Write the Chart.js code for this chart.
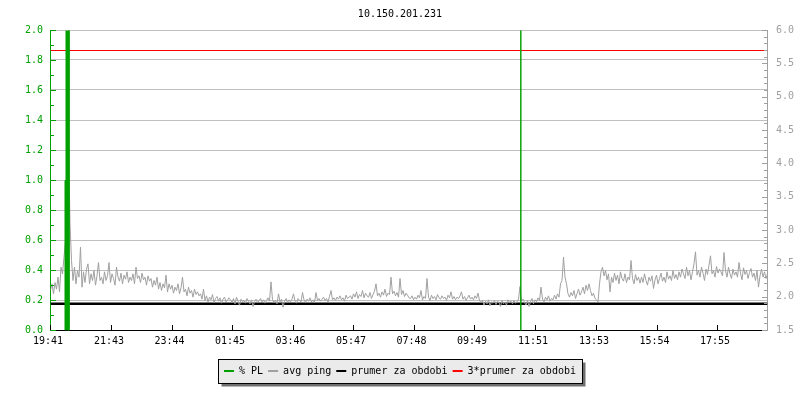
<!DOCTYPE html>
<html>
<head>
<meta charset="utf-8">
<title>10.150.201.231</title>
<script src="https://cdn.jsdelivr.net/npm/chart.js@4.4.0/dist/chart.umd.min.js"></script>
<style>
  html, body { margin: 0; padding: 0; background: #fff; }
</style>
</head>
<body>
<canvas id="chart" width="800" height="400"></canvas>
<script>
'use strict';

let titleText = '10.150.201.231';
let tickMinutes = [0, 122, 243, 364, 485, 606, 727, 848, 970, 1092, 1213, 1334];
let tickLabels = ['19:41', '21:43', '23:44', '01:45', '03:46', '05:47', '07:48', '09:49', '11:51', '13:53', '15:54', '17:55'];
let lastMinute = 1434;
let sampleStep = 3; // minutes between ping samples

// avg ping (right axis), one value every 3 minutes from 19:41
let pingValues = [
  2.1, 2.2, 2.05, 2.22, 2.12, 2.3, 2.08, 2.45, 2.35, 2.6,
  2.85, 3.6, 4.35, 3.1,
  2.55, 2.25, 2.45, 2.2, 2.4, 2.3, 2.75, 2.15, 2.38, 2.22,
  2.42, 2.5, 2.2, 2.35, 2.25, 2.4, 2.18, 2.32, 2.52, 2.25,
  2.3, 2.2, 2.38, 2.25, 2.32, 2.52, 2.22, 2.35, 2.28, 2.18,
  2.45, 2.3, 2.24, 2.36, 2.2, 2.33, 2.27, 2.38, 2.22, 2.3,
  2.25, 2.35, 2.2, 2.45, 2.28, 2.32, 2.22, 2.36, 2.26, 2.3,
  2.18, 2.32, 2.24,
  2.28, 2.15, 2.25, 2.18, 2.3, 2.12, 2.22, 2.1, 2.2, 2.14,
  2.33, 2.08, 2.2, 2.12, 2.18, 2.06, 2.15, 2.1, 2.2, 2.05,
  2.14, 2.3, 2.08, 2.12, 2.02, 2.15, 2.06, 2.1, 2.0, 2.12,
  2.04, 2.08, 2.02,
  2.05, 1.97, 2.12, 1.95, 2.02, 1.93, 2.0, 1.96, 2.04, 1.92,
  1.98, 2.01, 1.94, 1.99, 1.91, 1.97, 2.0, 1.93, 1.96, 1.99,
  1.96, 1.92, 1.98, 1.9, 2.0, 1.94, 1.88, 1.97, 1.93, 1.95,
  1.91, 1.98, 1.94, 1.9, 1.96, 1.86, 1.93, 1.97, 1.92, 1.95,
  1.98, 1.93, 1.96, 1.91, 1.95, 1.99, 1.94, 2.23, 1.96, 1.92,
  1.95, 1.9, 2.05, 1.93, 1.97, 1.85, 1.94, 1.98, 1.92, 1.96,
  1.93, 1.97, 2.05, 1.94, 1.91, 1.98, 1.95, 1.93, 2.07, 1.96,
  1.92, 1.97, 1.94, 1.99, 1.93, 1.96, 1.92, 2.07, 1.95, 1.98,
  1.94, 1.97, 2.0, 1.95, 1.98, 1.93, 2.01, 2.1, 1.96, 1.99,
  1.95, 2.0, 1.97, 2.02, 1.96, 1.99, 1.94, 2.03, 1.98, 2.0,
  2.02, 1.97, 2.05, 2.0, 2.08, 1.98, 2.04, 2.01, 2.1, 1.99,
  2.06, 2.02, 2.0, 2.07, 1.98, 2.04, 2.09, 2.2, 2.02, 2.06,
  2.0, 2.08, 2.03, 2.12, 2.01, 2.06, 2.04, 2.3, 2.05, 2.09,
  2.02, 2.07, 2.0, 2.28, 2.04, 2.1, 2.01, 2.06, 2.03, 1.99,
  1.98, 2.02, 1.96, 2.0, 1.97, 2.03, 1.99, 2.1, 1.96, 2.01,
  1.98, 2.28, 2.0, 1.95, 2.03, 1.98, 2.01, 1.96, 2.04, 1.99,
  1.97, 2.02, 1.98, 2.0, 1.95, 2.03, 1.99, 2.08, 1.97, 2.01,
  1.96, 2.0, 1.98, 2.02, 2.08, 1.97, 2.01, 1.95, 1.99, 2.03,
  1.97, 2.0, 1.96, 2.02, 1.98, 2.06, 1.95,
  1.92, 1.95, 1.88, 1.94, 1.9, 1.96, 1.87, 1.93, 1.91, 1.95,
  1.89, 1.94, 1.92, 1.86, 1.95, 1.9, 1.93, 1.88, 1.96, 1.92,
  1.94, 1.9, 1.95, 1.91, 1.93, 1.97,
  2.16, 1.94,
  1.97, 1.92, 1.88, 1.95, 1.86, 1.93, 1.98, 1.9, 1.96, 1.93,
  1.99, 1.95, 2.15, 1.97, 1.93, 2.0, 1.96, 2.02, 1.94, 1.98,
  1.96, 2.03, 1.97, 2.05, 2.0,
  2.2, 2.25, 2.6, 2.3, 2.2, 2.05,
  2.0, 2.07, 2.02, 2.1, 1.98, 2.05, 2.12, 2.03, 2.08, 2.15,
  2.05, 2.18, 2.1, 2.2,
  2.1, 2.02, 2.06, 1.98, 1.96, 1.93,
  2.2, 2.38, 2.45, 2.32, 2.4, 2.26, 2.35, 2.08, 2.3, 2.22,
  2.36, 2.25, 2.33, 2.2, 2.38, 2.28, 2.24, 2.35, 2.22, 2.3,
  2.26, 2.55, 2.28, 2.2, 2.34, 2.25, 2.3, 2.21,
  2.3, 2.22, 2.35, 2.25, 2.18, 2.3, 2.24, 2.32, 2.13, 2.26,
  2.33, 2.2, 2.28, 2.36, 2.24, 2.3, 2.22, 2.38, 2.27, 2.32,
  2.25, 2.4, 2.28, 2.34, 2.26, 2.38,
  2.3, 2.42, 2.35, 2.28, 2.45, 2.32, 2.4, 2.26, 2.38, 2.5,
  2.68, 2.33, 2.4, 2.3, 2.45, 2.36, 2.25, 2.42, 2.34, 2.48,
  2.62, 2.35, 2.4, 2.3, 2.46, 2.36, 2.42,
  2.38, 2.32, 2.67, 2.4, 2.3, 2.45, 2.35, 2.28, 2.42, 2.33,
  2.38, 2.3, 2.52, 2.36, 2.26, 2.44, 2.34, 2.4, 2.28, 2.37,
  2.43, 2.3, 2.36, 2.25, 2.4, 2.15, 2.32, 2.42, 2.3, 2.38,
  2.28, 2.35
];

// packet loss (left axis), minutes from start and values
let plMinutes = [0, 29, 29, 31, 31, 37, 37, 940, 940, 941, 941, 1434];
let plValues = [0, 0, 1, 1, 100, 100, 0, 0, 100, 100, 0, 0];

let meanPing = 1.9;
let tripleMeanPing = 5.7;

let green = '#00a000';
let gray = '#a0a0a0';
let monoFont = { family: 'DejaVu Sans Mono', size: 10 };

let pingPoints = [];
for (let i = 0; i < pingValues.length; i++) {
  pingPoints.push({ x: i * sampleStep, y: pingValues[i] });
}
let plPoints = [];
for (let i = 0; i < plValues.length; i++) {
  plPoints.push({ x: plMinutes[i], y: plValues[i] });
}

function flatLine(value) {
  return [{ x: 0, y: value }, { x: lastMinute, y: value }];
}

function drawLegendBox(chart) {
  let boxes = chart.legend.legendHitBoxes;
  if (!boxes || !boxes.length) return;
  let ctx = chart.ctx;
  let first = boxes[0];
  let last = boxes[boxes.length - 1];
  let left = Math.round(first.left - 6) + 0.5;
  let right = Math.round(last.left + last.width + 6) + 0.5;
  let top = Math.round(first.top - 7) + 0.5;
  let bottom = Math.round(first.top + first.height + 7) + 0.5;
  ctx.save();
  ctx.fillStyle = '#707070';
  ctx.fillRect(left + 3, top + 3, right - left, bottom - top);
  ctx.fillStyle = '#ebebeb';
  ctx.fillRect(left, top, right - left, bottom - top);
  ctx.strokeStyle = '#000';
  ctx.lineWidth = 1;
  ctx.strokeRect(left, top, right - left, bottom - top);
  ctx.restore();
}

function tickLine(ctx, x1, y1, x2, y2) {
  ctx.beginPath();
  ctx.moveTo(x1, y1);
  ctx.lineTo(x2, y2);
  ctx.stroke();
}

function drawTickMarks(chart) {
  let ctx = chart.ctx;
  let area = chart.chartArea;
  let yLeft = chart.scales.y;
  let yRight = chart.scales.y1;
  let xScale = chart.scales.x;
  ctx.save();
  ctx.lineWidth = 1;

  ctx.strokeStyle = green;
  for (let k = 0; k <= 20; k++) {
    let y = Math.round(yLeft.getPixelForValue(k / 10)) + 0.5;
    tickLine(ctx, area.left, y, area.left + (k % 2 === 0 ? 6 : 4), y);
  }

  ctx.strokeStyle = gray;
  for (let k = 0; k <= 45; k++) {
    let y = Math.round(yRight.getPixelForValue(1.5 + k / 10)) + 0.5;
    tickLine(ctx, area.right, y, area.right - (k % 5 === 0 ? 5 : 3), y);
  }

  ctx.strokeStyle = '#000';
  for (let i = 0; i < tickMinutes.length; i++) {
    let x = Math.round(xScale.getPixelForValue(tickMinutes[i])) + 0.5;
    tickLine(ctx, x, area.bottom, x, area.bottom - 5);
  }
  ctx.restore();
}

const chartDecor = {
  id: 'chartDecor',
  beforeDraw(chart) {
    drawLegendBox(chart);
  },
  beforeDatasetsDraw(chart) {
    // half pixel shift so 1px lines land on whole pixels
    chart.ctx.save();
    chart.ctx.translate(0.5, 0.5);
  },
  afterDatasetsDraw(chart) {
    chart.ctx.restore();
  },
  afterDraw(chart) {
    drawTickMarks(chart);
  }
};

let ctx = document.getElementById('chart').getContext('2d');

new Chart(ctx, {
  type: 'line',
  data: {
    datasets: [{
      label: '% PL',
      data: plPoints,
      yAxisID: 'y',
      borderColor: green,
      backgroundColor: green,
      borderWidth: 1,
      fill: 'origin',
      pointRadius: 0,
      segment: {
        borderColor: c => (c.p0.parsed.y === 0 && c.p1.parsed.y === 0) ? 'transparent' : green
      }
    },
    {
      label: 'avg ping',
      data: pingPoints,
      yAxisID: 'y1',
      borderColor: gray,
      backgroundColor: gray,
      borderWidth: 1,
      pointRadius: 0
    },
    {
      label: 'prumer za obdobi',
      data: flatLine(meanPing),
      yAxisID: 'y1',
      borderColor: '#000',
      backgroundColor: '#000',
      borderWidth: 2.5,
      pointRadius: 0
    },
    {
      label: '3*prumer za obdobi',
      data: flatLine(tripleMeanPing),
      yAxisID: 'y1',
      borderColor: '#ff0000',
      backgroundColor: '#ff0000',
      borderWidth: 1,
      pointRadius: 0
    }]
  },
  options: {
    responsive: false,
    animation: false,
    devicePixelRatio: 1,
    events: [],
    layout: { padding: { left: 0, right: 0, top: 0, bottom: 14 } },
    plugins: {
      tooltip: { enabled: false },
      title: {
        display: true,
        text: titleText,
        color: '#000',
        font: { family: 'DejaVu Sans Mono', size: 10, weight: 'normal' },
        padding: { top: 8, bottom: 10 }
      },
      legend: {
        position: 'bottom',
        labels: {
          boxWidth: 10,
          boxHeight: 2,
          padding: 5,
          color: '#000',
          font: monoFont,
          generateLabels(chart) {
            return chart.data.datasets.map((ds, i) => ({
              text: ds.label,
              fillStyle: ds.borderColor,
              strokeStyle: ds.borderColor,
              lineWidth: 0,
              fontColor: '#000',
              hidden: false,
              datasetIndex: i
            }));
          }
        }
      }
    },
    scales: {
      x: {
        type: 'linear',
        min: 0,
        max: lastMinute,
        z: 1,
        grid: { display: false, drawTicks: false },
        border: { color: '#000', width: 1 },
        afterBuildTicks: scale => {
          scale.ticks = tickMinutes.map(m => ({ value: m }));
        },
        afterFit: scale => {
          scale.height = 31;
        },
        ticks: {
          callback: (value, index) => tickLabels[index],
          color: '#000',
          font: monoFont,
          padding: 5,
          labelOffset: -2,
          maxRotation: 0,
          autoSkip: false
        }
      },
      y: {
        position: 'left',
        min: 0,
        max: 2,
        grid: {
          color: c => c.tick && c.tick.value === 0 ? 'transparent' : '#c0c0c0',
          drawTicks: false
        },
        border: { color: green },
        afterFit: scale => {
          scale.width = 50;
        },
        ticks: {
          stepSize: 0.2,
          callback: v => v.toFixed(1),
          color: green,
          font: monoFont,
          padding: 7
        }
      },
      y1: {
        position: 'right',
        min: 1.5,
        max: 6,
        grid: { display: false, drawTicks: false },
        border: { color: gray },
        afterFit: scale => {
          scale.width = 33;
        },
        ticks: {
          stepSize: 0.5,
          callback: v => v.toFixed(1),
          color: gray,
          font: monoFont,
          padding: 9
        }
      }
    }
  },
  plugins: [chartDecor]
});
</script>
</body>
</html>
